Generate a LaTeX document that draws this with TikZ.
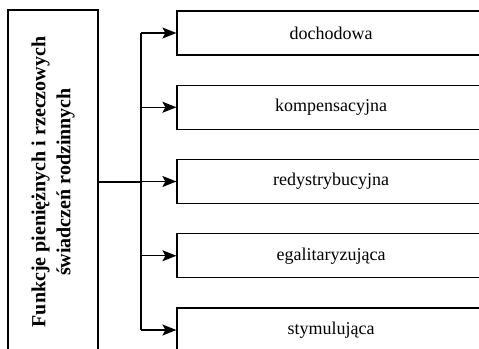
\documentclass[tikz,border=0pt]{standalone}
\usepackage{fontspec}
\setmainfont{Liberation Serif}
\usetikzlibrary{arrows.meta}

\tikzset{
  glowny/.style={draw, rectangle, rotate=90, minimum width=344pt, minimum height=90pt,
    inner sep=0pt, align=center, font=\bfseries\fontsize{20}{25}\selectfont},
  funkcja/.style={draw, rectangle, minimum width=308pt, minimum height=44pt,
    inner sep=0pt, font=\fontsize{18}{21}\selectfont},
  strzalka/.style={-{Stealth[length=14pt, width=11pt, inset=3pt]}}
}

\begin{document}
\begin{tikzpicture}[x=1pt, y=-1pt, line width=1.2pt]
  \useasboundingbox (0,0) rectangle (479,348);

  \node[glowny] (zrodlo) at (53,182) {Funkcje pieniężnych i rzeczowych\\świadczeń rodzinnych};
  \coordinate (pien) at (141,182);

  \foreach \nazwa [count=\i] in {dochodowa, kompensacyjna, redystrybucyjna, egalitaryzująca, stymulująca}{
    \node[funkcja] (f\i) at (331,{33+74.25*(\i-1)}) {\nazwa};
  }

  % pion i odgalezienia
  \draw (zrodlo.south) -- (pien);
  \draw (f1.west -| pien) -- (f5.west -| pien);
  \foreach \i in {1,...,5}{
    \draw[strzalka] (f\i.west -| pien) -- (f\i.west);
  }
\end{tikzpicture}
\end{document}
